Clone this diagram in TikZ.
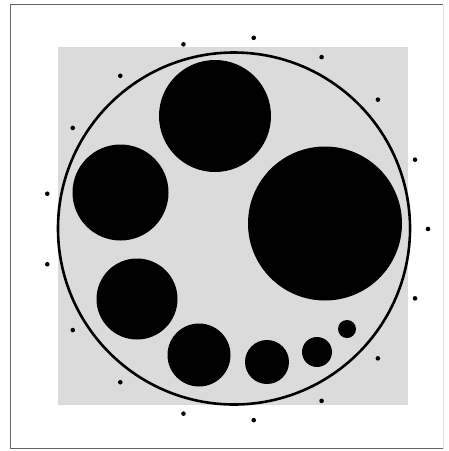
\documentclass[tikz,border=0pt]{standalone}
\begin{document}
\begin{tikzpicture}[x=1pt,y=-1pt,
  blob/.style={fill=black},
  dotmark/.style={fill=black},
  framepart/.style={draw=black!60,line width=1.2pt}]
\useasboundingbox (0,0) rectangle (449,451);
\fill[white] (0,0) rectangle (449,451);
% frame
\draw[framepart] (443,4.5) -- (10.5,4.5) -- (10.5,448.5) -- (443,448.5);
\draw[black!12,line width=0.8pt] (443,4.5) -- (443,448.5);
% gray square
\fill[black!14] (58,47) rectangle (408,405);
% big circle
\draw[line width=2.6pt] (234,228.5) circle[radius=176];
% black discs
\fill[blob] (215,116) circle[radius=56];
\fill[blob] (120.5,192.5) circle[radius=48];
\fill[blob] (137,299) circle[radius=40.5];
\fill[blob] (325,223.5) circle[radius=77];
\fill[blob] (199,355) circle[radius=31.5];
\fill[blob] (267,362) circle[radius=22];
\fill[blob] (317,352) circle[radius=15];
\fill[blob] (347,329) circle[radius=9];
% ring of dots
\foreach \k in {0,...,16}{
  \fill[dotmark] ({236+192*cos(\k*360/17)},{229-192*sin(\k*360/17)}) circle[radius=2.3];
}
\end{tikzpicture}
\end{document}
